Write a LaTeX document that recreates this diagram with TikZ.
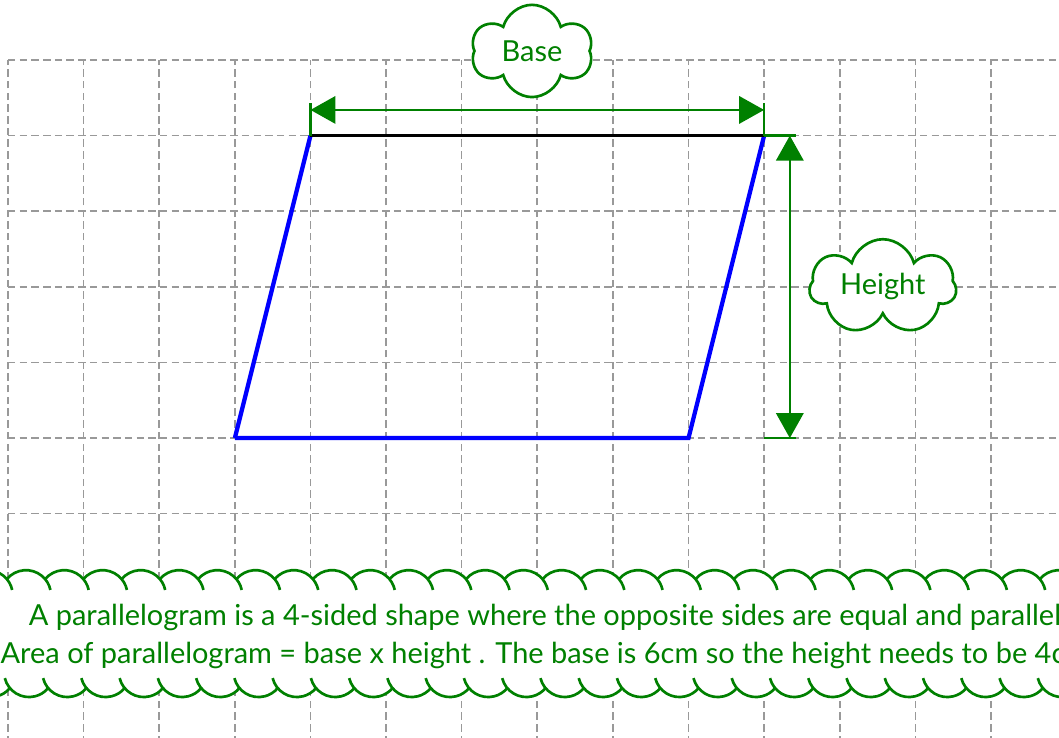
\documentclass[tikz,border=0pt]{standalone}
\usepackage{fontspec}
\setmainfont{Lato}
\usetikzlibrary{shapes.symbols,arrows.meta}
\definecolor{dg}{RGB}{0,128,0}
\begin{document}
\begin{tikzpicture}[
  gridline/.style={draw=gray!80, dash pattern=on 2.8pt off 1.6pt, line width=0.6pt},
  shapeline/.style={draw=blue, line width=1.6pt},
  topline/.style={draw=black, line width=1.2pt},
  dimline/.style={draw=dg, line width=1pt},
  dimarrow/.style={dimline, {Triangle[length=0.33cm,width=0.36cm]}-{Triangle[length=0.33cm,width=0.36cm]}},
  labelcloud/.style={cloud, cloud ignores aspect, draw=dg, fill=white, line width=1pt, text=dg, font=\fontsize{10.9}{13}\selectfont, inner sep=0pt},
  scallop/.style={draw=dg, line width=1pt},
  bandtext/.style={text=dg, align=center, font=\fontsize{10.9}{14.3}\selectfont, inner sep=0pt}
]
\useasboundingbox (-0.106,-3.955) rectangle (13.90,5.794);
\begin{scope}
\clip (-0.106,-3.955) rectangle (13.90,5.794);
\draw[gridline] (0,-4.5) grid (14.5,5);

\coordinate (A) at (3,0);
\coordinate (B) at (9,0);
\coordinate (C) at (10,4);
\coordinate (D) at (4,4);

\draw[shapeline] (A) -- (B) -- (C);
\draw[shapeline] (A) -- (D);
\draw[topline] (D) -- (C);

% base dimension
\coordinate (bl) at (4,4.34);
\coordinate (br) at (10,4.34);
\draw[dimline] (D) -- ++(0,0.43);
\draw[dimline] (C) -- ++(0,0.43);
\draw[dimarrow] (bl) -- (br);

% height dimension
\coordinate (ht) at (10.34,4);
\coordinate (hb) at (10.34,0);
\draw[dimline] (C) -- ++(0.42,0);
\draw[dimline] (B) ++(1,0) -- ++(0.42,0);
\draw[dimarrow] (ht) -- (hb);

\node[labelcloud, cloud puffs=6, minimum width=1.6cm, minimum height=1.22cm] (base) at (6.93,5.12) {Base};
\node[labelcloud, cloud puffs=7, minimum width=1.94cm, minimum height=1.26cm] (height) at (11.57,2.0) {Height};

% scalloped band
\def\rr{0.33}
\foreach \k in {-1,...,28} {
  \fill[white] ({0.238+0.506*\k},-2.077) circle (\rr);
  \fill[white] ({0.278+0.506*\k},-3.095) circle (\rr);
}
\fill[white] (-0.5,-2.077) rectangle (14.5,-3.095);
\foreach \k in {-1,...,28} {
  \draw[scallop] ({0.238+0.506*\k},-2.077) ++(140:\rr) arc[start angle=140, end angle=12, radius=\rr];
  \draw[scallop] ({0.278+0.506*\k},-3.095) ++(194:\rr) arc[start angle=194, end angle=320, radius=\rr];
}
\node[bandtext] (txt) at (7.1,-2.62) {A parallelogram is a 4-sided shape where the opposite sides are equal and parallel\\Area of parallelogram = base x height . The base is 6cm so the height needs to be 4cm};
\end{scope}
\end{tikzpicture}
\end{document}
